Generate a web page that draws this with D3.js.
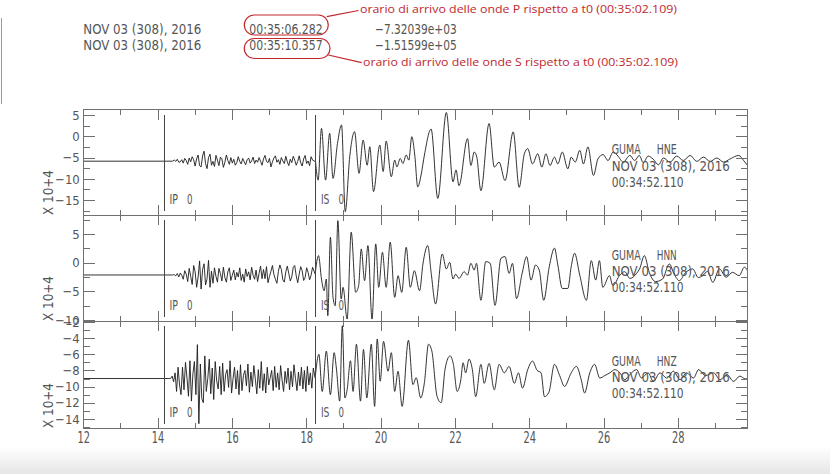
<!DOCTYPE html>
<html><head><meta charset="utf-8">
<script src="https://cdn.jsdelivr.net/npm/d3@7"></script>
<style>body{margin:0;background:#fff}svg{display:block}</style>
</head><body><svg id="c" width="830" height="474"></svg>
<script>
// ---------------- DATA ----------------
const timeTicks = [12,14,16,18,20,22,24,26,28];
const timeMinorTicks = [13,15,17,19,21,23,25,27,29];
const xDomain = [12, 29.88];
const channels = ["HNE","HNN","HNZ"];
const station = "GUMA";
const dateLabel = "NOV 03 (308), 2016";
const startTime = "00:34:52.110";
const picks = [{name:"IP", t:14.172}, {name:"IS", t:18.247}];
const panelDomains = [[-18.5,6.25],[-10.17,8.3],[-15.13,-1.875]];
const yMajorTicks = [[5,0,-5,-10,-15],[5,0,-5,-10],[-2,-4,-6,-8,-10,-12,-14]];
const yMinorTicks = [[2.5,-2.5,-7.5,-12.5,-17.5],[7.5,2.5,-2.5,-7.5],[-3,-5,-7,-9,-11,-13,-15]];
const yUnitLabel = "X 10+4";
const headerDates = ["NOV 03 (308), 2016","NOV 03 (308), 2016"];
const headerTimes = ["00:35:06.282","00:35:10.357"];
const headerValues = ["\u22127.32039e+03","\u22121.51599e+05"];
const annotations = ["orario di arrivo delle onde P rispetto a t0 (00:35:02.109)",
                     "orario di arrivo delle onde S rispetto a t0 (00:35:02.109)"];

// quiet pre-event segments [time, value]
const hneQuiet = [[12,-5.85],[14.40,-5.85]];
const hnnQuiet = [[12,-2.15],[14.40,-2.15]];
const hnzQuiet = [[12,-9.0],[14.30,-9.0]];

// P-coda noise, sampled every noiseStep seconds from the given start
const noiseStep = 0.04;
const hneNoiseStart = 14.45, hnnNoiseStart = 14.45, hnzNoiseStart = 14.35;
const hneNoise = [-5.6,-5.9,-5.4,-6.1,-6.0,-5.5,-6.3,-5.2,-5.7,-6.6,
 -5.1,-6.0,-4.8,-5.5,-7.0,-5.3,-4.4,-6.9,-7.2,-4.6,
 -3.5,-6.4,-7.6,-5.0,-4.2,-6.8,-5.9,-7.1,-4.5,-5.6,
 -6.9,-4.9,-5.3,-7.3,-6.1,-4.4,-5.7,-6.6,-5.0,-6.3,
 -5.4,-6.8,-6.2,-4.8,-5.9,-6.5,-5.2,-6.0,-6.7,-5.5,
 -5.1,-6.3,-5.8,-4.9,-6.4,-5.6,-6.1,-5.0,-5.9,-6.8,
 -5.3,-4.5,-5.9,-6.2,-5.2,-7.2,-6.0,-5.1,-4.6,-6.1,
 -5.5,-6.6,-5.0,-5.8,-6.4,-4.7,-6.0,-6.9,-5.4,-6.2,
 -4.7,-5.6,-6.8,-5.9,-4.6,-6.2,-7.0,-5.3,-4.5,-6.4,
 -5.8,-6.9,-4.8,-5.6];
const hnnNoise = [-2.1,-2.3,-1.9,-2.5,-1.8,-2.2,-2.9,-1.4,-2.0,-3.3,
 -1.0,-2.4,-3.8,-0.5,-1.6,-4.3,-2.5,0.3,-4.6,-1.2,
 -0.2,-3.9,-2.8,0.4,-4.3,-1.5,-3.6,-0.9,-2.4,-3.4,
 -1.0,-1.9,-3.2,-0.8,-2.6,-3.4,-1.6,-0.9,-3.1,-2.2,
 -1.3,-3.0,-1.7,-2.5,-0.9,-3.1,-2.0,-3.4,-1.1,-2.4,
 -1.6,-3.0,-0.8,-2.2,-2.9,-1.3,-3.3,-1.9,-0.6,-2.8,
 -1.2,-2.8,-0.7,-3.5,-2.4,-1.5,-0.5,-2.1,-2.9,-3.6,
 -1.5,-0.4,-1.2,-3.0,-3.4,-1.6,-0.6,-1.9,-3.2,-2.5,
 -0.8,-0.5,-2.3,-3.5,-2.0,-0.7,-1.4,-3.1,-2.6,-0.9,
 -1.7,-3.0,-2.2,-0.8];
const hnzNoise = [-9.0,-8.7,-9.4,-8.3,-10.6,-7.6,-9.8,-11.0,-7.6,-10.4,
 -7.0,-8.9,-11.2,-6.8,-11.8,-8.4,-6.9,-11.0,-4.8,-14.6,
 -7.2,-11.5,-12.0,-6.2,-10.6,-9.0,-6.6,-10.9,-7.7,-11.6,
 -6.9,-9.3,-10.3,-7.5,-11.0,-7.1,-10.6,-8.5,-7.9,-10.1,
 -6.8,-10.8,-9.0,-7.6,-10.3,-8.0,-11.0,-7.3,-10.5,-8.6,
 -8.0,-9.9,-7.2,-10.7,-8.2,-10.0,-7.4,-9.1,-10.9,-7.9,
 -10.2,-6.9,-10.5,-8.4,-10.8,-7.6,-9.8,-8.9,-8.0,-10.5,
 -7.5,-10.1,-8.3,-10.4,-7.4,-9.2,-10.6,-8.1,-9.6,-7.7,
 -10.4,-8.1,-10.0,-7.3,-9.0,-10.5,-8.2,-9.9,-7.6,-10.3,
 -8.0,-10.6,-7.5,-9.8,-8.3,-10.2,-7.7];

// S and later wavetrain, [time, value] at read-off peaks/troughs
const hneS = [[18.25,-5.98],[18.32,-10.3],[18.41,1.86],[18.52,-10.3],[18.63,0.69],[18.72,-9.9],[18.84,-1.7],[18.95,2.65],[19.05,-17.7],[19.17,-4.8],[19.30,1.08],[19.42,-8.7],[19.53,-0.88],[19.64,-6.8],[19.71,-2.45],[19.81,-13.0],[19.98,-2.06],[20.07,-8.3],[20.15,-1.12],[20.29,-9.5],[20.38,-5.6],[20.44,-7.2],[20.53,-5.2],[20.60,-6.4],[20.69,-4.4],[20.76,-5.6],[20.84,-0.1],[20.92,-4.4],[21.00,-11.9],[21.09,-9.1],[21.18,-4.4],[21.36,1.7],[21.54,-14.6],[21.77,5.6],[21.95,-10.7],[22.03,-7.9],[22.11,-11.6],[22.34,-0.54],[22.43,-6.86],[22.52,-3.7],[22.59,-4.9],[22.70,-12.8],[22.92,3.0],[23.06,-7.25],[23.19,-6.07],[23.35,-10.4],[23.57,1.04],[23.73,-12.0],[23.87,-4.1],[23.96,-2.9],[24.09,-6.5],[24.23,-4.1],[24.34,-7.25],[24.45,-4.1],[24.56,-6.86],[24.68,-4.9],[24.77,-6.5],[24.89,-3.7],[25.04,-7.65],[25.13,-4.9],[25.24,-6.07],[25.36,-3.3],[25.46,-6.5],[25.58,-2.5],[25.73,-9.2],[25.85,-5.3],[25.99,-4.3],[26.12,-5.7],[26.26,-3.7],[26.39,-4.65],[26.53,-6.07],[26.71,-4.5],[26.84,-5.7],[26.96,-4.5],[27.07,-6.2],[27.20,-4.65],[27.34,-5.4],[27.48,-6.7],[27.61,-5.1],[27.79,-6.07],[27.97,-4.65],[28.15,-5.7],[28.33,-4.5],[28.51,-5.9],[28.69,-4.9],[28.87,-5.9],[29.05,-5.1],[29.23,-6.07],[29.41,-5.3],[29.64,-4.5],[29.77,-5.7],[29.91,-7.25]];
const hnnS = [[18.24,-1.98],[18.33,1.22],[18.41,-2.85],[18.48,-4.9],[18.54,-2.85],[18.58,-9.25],[18.65,4.42],[18.72,-6.05],[18.78,-7.5],[18.85,7.33],[18.94,-6.34],[18.99,-4.3],[19.10,-9.83],[19.21,5.29],[19.33,-5.18],[19.41,-4.0],[19.48,2.39],[19.57,-3.14],[19.66,2.97],[19.77,-9.83],[19.87,3.26],[19.95,-4.3],[20.05,1.8],[20.15,-4.3],[20.26,3.55],[20.38,-6.05],[20.47,-2.27],[20.57,-5.18],[20.69,2.68],[20.80,-4.3],[20.91,-1.4],[21.05,-4.9],[21.14,-0.23],[21.27,2.97],[21.36,-1.69],[21.48,-7.2],[21.66,1.51],[21.77,-1.1],[21.86,0.06],[21.95,-2.85],[22.02,-2.0],[22.11,-2.75],[22.25,-1.58],[22.34,-2.17],[22.43,-0.12],[22.52,-1.29],[22.58,-0.12],[22.70,-6.56],[22.83,0.18],[22.95,-0.12],[23.08,-7.44],[23.24,0.76],[23.35,1.05],[23.46,-1.87],[23.55,-0.12],[23.66,-6.27],[23.81,-1.87],[23.93,1.05],[24.05,-3.04],[24.17,-0.41],[24.27,-1.29],[24.39,-6.56],[24.54,-0.7],[24.68,2.52],[24.77,-0.41],[24.89,-4.5],[25.04,-4.5],[25.13,-0.7],[25.22,1.64],[25.36,-2.17],[25.54,-6.56],[25.67,0.35],[25.79,-3.04],[25.89,0.35],[25.98,-4.3],[26.16,-2.27],[26.25,-4.0],[26.44,-2.17],[26.57,-1.58],[26.71,-2.75],[26.89,-1.87],[26.97,-1.1],[27.10,1.22],[27.23,-1.69],[27.40,-3.3],[27.59,-2.85],[27.77,-0.23],[27.90,-2.0],[28.04,-3.14],[28.20,-1.8],[28.40,-1.1],[28.55,-2.6],[28.67,-2.27],[28.80,-1.5],[28.94,-3.43],[29.12,-1.1],[29.30,-2.56],[29.47,-1.69],[29.65,-2.27],[29.79,-0.8],[29.92,-2.0]];
const hnzS = [[18.24,-8.92],[18.34,-6.0],[18.43,-10.6],[18.54,-5.6],[18.65,-11.0],[18.75,-5.8],[18.81,-7.7],[18.90,-11.8],[18.97,-2.46],[19.04,-11.4],[19.10,-10.4],[19.19,-6.8],[19.26,-10.6],[19.35,-4.75],[19.46,-11.8],[19.54,-5.4],[19.63,-11.4],[19.75,-4.75],[19.84,-12.45],[19.91,-4.1],[19.99,-9.33],[20.08,-4.4],[20.20,-8.1],[20.29,-5.8],[20.38,-10.6],[20.47,-8.1],[20.58,-12.45],[20.75,-4.25],[20.87,-9.75],[20.96,-8.9],[21.08,-11.4],[21.18,-9.5],[21.29,-4.75],[21.38,-5.6],[21.52,-11.2],[21.63,-12.0],[21.74,-7.7],[21.87,-6.2],[21.96,-7.25],[22.06,-10.6],[22.16,-9.15],[22.22,-7.05],[22.29,-8.3],[22.38,-6.6],[22.47,-7.9],[22.56,-11.25],[22.70,-7.25],[22.79,-9.6],[22.92,-7.13],[23.06,-10.4],[23.19,-7.25],[23.33,-8.3],[23.46,-7.5],[23.60,-9.6],[23.71,-8.3],[23.82,-10.2],[23.96,-7.9],[24.09,-6.84],[24.21,-7.97],[24.32,-8.3],[24.41,-11.25],[24.53,-10.7],[24.68,-7.25],[24.82,-8.64],[24.95,-9.98],[25.13,-8.3],[25.27,-7.5],[25.40,-9.15],[25.49,-10.8],[25.63,-8.3],[25.76,-7.25],[25.90,-8.94],[26.03,-8.64],[26.17,-8.3],[26.30,-7.9],[26.44,-8.3],[26.57,-9.15],[26.71,-8.5],[26.89,-7.9],[27.02,-8.94],[27.20,-8.3],[27.34,-9.35],[27.52,-8.3],[27.70,-8.94],[27.88,-8.1],[28.06,-9.15],[28.24,-8.3],[28.42,-8.94],[28.56,-7.9],[28.74,-8.64],[28.96,-8.3],[29.14,-9.15],[29.32,-8.5],[29.50,-9.35],[29.67,-8.7],[29.82,-9.05],[29.96,-8.8]];

// ---------------- BUILD ----------------
function buildPre(quiet, noise, start, s){
  return quiet.concat(noise.map((v,i)=>[start+i*noiseStep, v])).concat([s[0]]);
}
const traces = [
  {pre: buildPre(hneQuiet, hneNoise, hneNoiseStart, hneS), post: hneS},
  {pre: buildPre(hnnQuiet, hnnNoise, hnnNoiseStart, hnnS), post: hnnS},
  {pre: buildPre(hnzQuiet, hnzNoise, hnzNoiseStart, hnzS), post: hnzS}
];

const SAC = "'Liberation Sans Narrow','DejaVu Sans Condensed','Arial Narrow','Liberation Sans',sans-serif";
const INK = "#555", FRAME = "#707070", TRACE = "#1c1c1c", RED = "#c1272d";
const plotLeft = 83.3, plotRight = 747.7;
const panelTops = [109.7, 215, 321], panelBottoms = [215, 321, 428];

const svg = d3.select("#c");
const defs = svg.append("defs");
svg.append("rect").attr("width",830).attr("height",474).attr("fill","#fff");

// bottom window shade
const grad = defs.append("linearGradient").attr("id","shade").attr("x1",0).attr("y1",0).attr("x2",0).attr("y2",1);
grad.append("stop").attr("offset","0%").attr("stop-color","#fff");
grad.append("stop").attr("offset","100%").attr("stop-color","#e6e6e6");
svg.append("rect").attr("x",0).attr("y",446).attr("width",830).attr("height",28).attr("fill","url(#shade)");
svg.append("line").attr("x1",1.5).attr("x2",1.5).attr("y1",18).attr("y2",104).attr("stroke","#9a9a9a").attr("stroke-width",1);

function txt(g, x, y, s, size, len, opts={}){
  const t = g.append("text").attr("x",x).attr("y",y).text(s)
    .attr("font-family", opts.family || SAC).attr("font-size", size)
    .attr("fill", opts.fill || INK);
  if (len) t.attr("textLength", len).attr("lengthAdjust","spacingAndGlyphs");
  if (opts.anchor) t.attr("text-anchor", opts.anchor);
  return t;
}

const x = d3.scaleLinear().domain(xDomain).range([plotLeft, plotRight]);

traces.forEach((tr, i) => {
  const top = panelTops[i], bottom = panelBottoms[i];
  const y = d3.scaleLinear().domain(panelDomains[i]).range([bottom, top]);
  const g = svg.append("g");

  defs.append("clipPath").attr("id","clip"+i).append("rect")
    .attr("x",plotLeft).attr("y",top).attr("width",plotRight-plotLeft).attr("height",bottom-top);

  // trace: jagged P coda, smoother S wavetrain
  const lineLin = d3.line().x(d=>x(d[0])).y(d=>y(d[1]));
  const lineSm = d3.line().x(d=>x(d[0])).y(d=>y(d[1])).curve(d3.curveMonotoneX);
  [[tr.pre, lineLin], [tr.post, lineSm]].forEach(([d, gen]) => {
    g.append("path").datum(d).attr("d",gen).attr("fill","none")
      .attr("stroke",TRACE).attr("stroke-width",0.9).attr("stroke-linejoin","round")
      .attr("clip-path","url(#clip"+i+")");
  });

  // frame
  g.append("rect").attr("x",plotLeft).attr("y",top).attr("width",plotRight-plotLeft).attr("height",bottom-top)
    .attr("fill","none").attr("stroke",FRAME).attr("stroke-width",1).attr("shape-rendering","crispEdges");

  const styleAxis = sel => {
    sel.select(".domain").remove();
    sel.selectAll(".tick line").attr("stroke",FRAME).attr("shape-rendering","crispEdges");
    sel.selectAll("text").attr("font-family",SAC).attr("fill",INK);
  };

  // y axes
  g.append("g").attr("transform",`translate(${plotLeft},0)`)
    .call(d3.axisLeft(y).tickValues(yMajorTicks[i]).tickSize(-12).tickPadding(3.5).tickFormat(d=>d<0?"\u2212"+Math.abs(d):d))
    .call(styleAxis).call(s=>s.selectAll("text").attr("font-size",13));
  g.append("g").attr("transform",`translate(${plotLeft},0)`)
    .call(d3.axisLeft(y).tickValues(yMinorTicks[i]).tickSize(-6.5).tickFormat("")).call(styleAxis);
  g.append("g").attr("transform",`translate(${plotRight},0)`)
    .call(d3.axisRight(y).tickValues(yMajorTicks[i]).tickSize(-12).tickFormat("")).call(styleAxis);
  g.append("g").attr("transform",`translate(${plotRight},0)`)
    .call(d3.axisRight(y).tickValues(yMinorTicks[i]).tickSize(-6.5).tickFormat("")).call(styleAxis);

  // x axes top & bottom (ticks inside)
  g.append("g").attr("transform",`translate(0,${top})`)
    .call(d3.axisBottom(x).tickValues(timeTicks).tickSize(10).tickFormat("")).call(styleAxis);
  g.append("g").attr("transform",`translate(0,${top})`)
    .call(d3.axisBottom(x).tickValues(timeMinorTicks).tickSize(5.5).tickFormat("")).call(styleAxis);
  const bAx = d3.axisBottom(x).tickValues(timeTicks).tickSize(-10).tickPadding(4);
  if (i < 2) bAx.tickFormat("");
  g.append("g").attr("transform",`translate(0,${bottom})`).call(bAx).call(styleAxis)
    .call(s=>s.selectAll("text").attr("font-size",15).attr("textLength",12.5).attr("lengthAdjust","spacingAndGlyphs"));
  g.append("g").attr("transform",`translate(0,${bottom})`)
    .call(d3.axisBottom(x).tickValues(timeMinorTicks).tickSize(-5.5).tickFormat("")).call(styleAxis);

  // picks
  picks.forEach(p => {
    const px = x(p.t);
    g.append("line").attr("x1",px).attr("x2",px).attr("y1",top+5).attr("y2",bottom-4)
      .attr("stroke","#444").attr("stroke-width",1).attr("shape-rendering","crispEdges");
    txt(g, px+5.5, bottom-11, p.name, 14, 8.5);
    txt(g, px+23, bottom-11, "0", 14, 5.5);
  });

  // station block
  txt(g, 611.7, top+44.5, station, 14, 29);
  txt(g, 656.7, top+44.5, channels[i], 14, 20);
  txt(g, 611.7, top+60.8, dateLabel, 14, 118);
  txt(g, 611.7, top+77.2, startTime, 14, 72);

  // unit label
  g.append("text").attr("transform",`translate(53,${bottom}) rotate(-90)`).text(yUnitLabel)
    .attr("font-family",SAC).attr("font-size",14).attr("fill",INK)
    .attr("textLength",45).attr("lengthAdjust","spacingAndGlyphs");
});

// header
const hdr = svg.append("g");
[34, 50].forEach((by, k) => {
  txt(hdr, 83.3, by, headerDates[k], 14, 118);
  txt(hdr, 249.3, by, headerTimes[k], 14, 73.4);
  txt(hdr, 375, by, headerValues[k], 14, 81.7);
});

// red annotations
const ann = svg.append("g");
ann.append("rect").attr("x",244.3).attr("y",15).attr("width",84).attr("height",20).attr("rx",10)
  .attr("fill","none").attr("stroke",RED).attr("stroke-width",1.2);
ann.append("rect").attr("x",244.3).attr("y",38.5).attr("width",85.7).attr("height",20).attr("rx",10)
  .attr("fill","none").attr("stroke",RED).attr("stroke-width",1.2);
ann.append("line").attr("x1",326.7).attr("y1",16.7).attr("x2",358.5).attr("y2",10.5).attr("stroke",RED).attr("stroke-width",1.2);
ann.append("line").attr("x1",328.3).attr("y1",55).attr("x2",361.7).attr("y2",62.7).attr("stroke",RED).attr("stroke-width",1.2);
txt(ann, 360, 12.5, annotations[0], 11.5, 317, {family:"'Open Sans',Lato,sans-serif", fill:RED});
txt(ann, 363, 66, annotations[1], 11.5, 315, {family:"'Open Sans',Lato,sans-serif", fill:RED});
</script></body></html>
